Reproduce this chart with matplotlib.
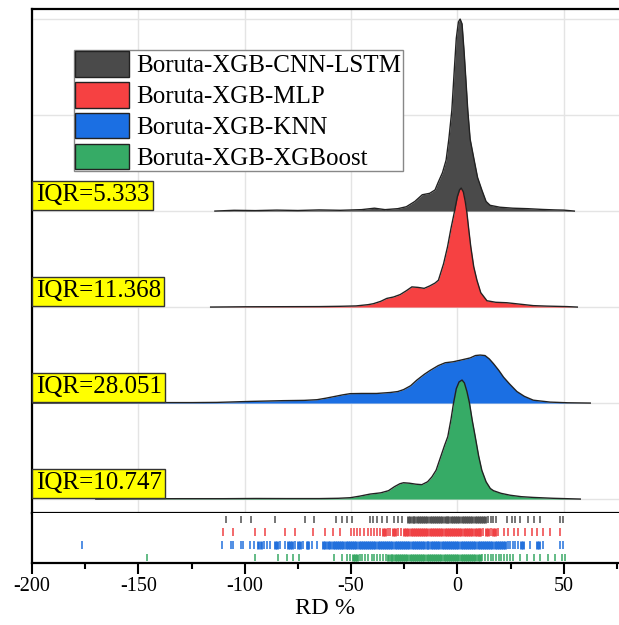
import numpy as np
import matplotlib.pyplot as plt
from matplotlib.patches import Patch

plt.rcParams['font.family'] = ['Liberation Serif', 'DejaVu Serif']
plt.rcParams['axes.unicode_minus'] = False

models = ['Boruta-XGB-CNN-LSTM', 'Boruta-XGB-MLP', 'Boruta-XGB-KNN', 'Boruta-XGB-XGBoost']
iqr = ['5.333', '11.368', '28.051', '10.747']
colors = ['#4a4a4a', '#f64142', '#1b6fe3', '#36ab66']
rug_colors = ['#505050', '#ef4043', '#2270dc', '#38a864']

# density curves (x = RD %, h = ridge height)
cnn_x = [-114, -105, -95, -85, -75, -65, -55, -45, -39, -34, -28, -24, -20, -16.5, -13, -10.5, -9, -7,
         -5.3, -4, -2.6, -1.5, -0.5, 0.5, 1.3, 2.2, 3.2, 4.2, 4.9, 6, 7.9, 9.5, 11.5, 13.5, 15.4,
         20, 26, 33, 40, 46, 50, 55]
cnn_h = [0.0, 0.008, 0.005, 0.01, 0.006, 0.012, 0.008, 0.015, 0.03, 0.015, 0.025, 0.045, 0.1, 0.17,
         0.185, 0.22, 0.3, 0.4, 0.53, 0.75, 1.05, 1.45, 1.8, 1.97, 2.0, 1.95, 1.65, 1.3, 1.05, 0.75,
         0.53, 0.35, 0.22, 0.1, 0.06, 0.04, 0.03, 0.025, 0.017, 0.012, 0.01, 0.0]

mlp_x = [-116, -100, -80, -65, -55, -47.6, -42, -39.5, -36, -33.2, -30, -26.9, -24, -21.4, -18.5,
         -15.6, -13, -10.5, -8.9, -6.5, -4.6, -3, -1.5, 0, 1.0, 1.8, 2.8, 3.7, 4.5, 5.4, 6.3, 7.7,
         9.2, 11, 13.9, 18, 23.3, 29.5, 35.7, 42, 51.5, 56.4]
mlp_h = [0.0, 0.003, 0.004, 0.005, 0.008, 0.012, 0.025, 0.035, 0.06, 0.09, 0.105, 0.13, 0.17, 0.21,
         0.205, 0.195, 0.22, 0.25, 0.28, 0.45, 0.63, 0.82, 0.98, 1.15, 1.22, 1.24, 1.2, 1.1, 0.98,
         0.8, 0.63, 0.42, 0.28, 0.15, 0.066, 0.05, 0.045, 0.03, 0.015, 0.01, 0.005, 0.0]

knn_x = [-200, -180, -160, -140, -125, -113, -97.5, -82, -72, -66, -62, -58.3, -54, -50.4, -45, -38,
         -31.6, -28, -25.3, -22, -19, -15.5, -12.8, -9, -5.7, -2, 2.1, 6, 8.5, 10.7, 13, 15, 17,
         19.5, 21.7, 24.5, 28, 31.5, 35.7, 43.6, 52, 62.5]
knn_h = [0.0, 0.002, 0.003, 0.005, 0.005, 0.007, 0.017, 0.025, 0.028, 0.035, 0.05, 0.066, 0.085,
         0.098, 0.1, 0.1, 0.11, 0.12, 0.14, 0.18, 0.24, 0.3, 0.34, 0.39, 0.42, 0.43, 0.45, 0.47,
         0.495, 0.5, 0.495, 0.46, 0.41, 0.34, 0.27, 0.2, 0.12, 0.07, 0.03, 0.01, 0.003, 0.0]

xgb_x = [-170, -150, -130, -110, -95, -80, -65, -56, -50.4, -46, -41, -36, -32.4, -29.5, -27, -25.3,
         -22.5, -19.5, -16.7, -14, -12, -10, -8, -6, -4.5, -3, -1.8, -0.5, 0.8, 2.2, 3.3, 4.5, 5.7,
         7, 8.4, 10, 11.5, 13.5, 15.5, 17, 20.5, 24.8, 30, 35.7, 45, 57.8]
xgb_h = [0.0, 0.003, 0.004, 0.004, 0.006, 0.005, 0.005, 0.008, 0.014, 0.03, 0.052, 0.065, 0.087,
         0.13, 0.16, 0.17, 0.165, 0.155, 0.15, 0.18, 0.23, 0.3, 0.43, 0.56, 0.65, 0.83, 1.0, 1.15,
         1.22, 1.24, 1.21, 1.12, 1.0, 0.82, 0.65, 0.45, 0.3, 0.18, 0.11, 0.087, 0.06, 0.04, 0.025,
         0.017, 0.008, 0.0]

# rug values (RD %)
cnn_rug = [-108.8, -101.8, -96.8, -85.6, -71.7, -67.4, -57.0, -54.3, -52.0, -49.6, -41.0, -39.5,
           -37.9, -35.6, -33.2, -30.0, -27.7, -26.1, -23.0, -22.1, -21.0, -20.2, -19.1, -18.0,
           -17.2, -16.1, -15.0, -14.2, -13.1, -12.0, -11.1, -10.2, -9.0, -8.1, -7.2, -6.0, -5.1,
           -4.2, -3.0, -2.1, -1.2, 0.0, 0.9, 2.0, 2.9, 4.1, 5.0, 6.1, 7.0, 8.2, 9.1, 10.0, 11.2,
           12.2, 13.1, 14.3, 15.6, 16.8, 18.4, 23.3, 25.6, 27.2, 29.5, 33.4, 35.8, 38.9, 48.4, 49.6]
mlp_rug = [-110.1, -105.5, -95.3, -90.3, -81.0, -76.2, -68.0, -62.2, -58.5, -55.0, -50.0, -48.6,
           -47.1, -45.6, -43.8, -42.0, -40.7, -39.2, -37.8, -36.4, -35.1, -34.0, -32.7, -31.5,
           -30.2, -29.1, -27.8, -26.6, -25.3, -24.2, -23.0, -21.9, -21.0, -19.9, -19.0, -18.0,
           -17.1, -16.0, -15.0, -14.1, -13.0, -12.0, -11.1, -10.0, -9.0, -8.1, -7.0, -6.0, -5.1,
           -4.0, -3.0, -2.1, -1.0, 0.0, 1.0, 1.9, 3.0, 4.0, 5.1, 6.0, 7.0, 8.1, 9.0, 10.0, 10.8,
           12.0, 13.3, 14.4, 15.7, 16.9, 17.7, 19.3, 21.7, 24.0, 26.4, 28.7, 31.9, 35.0, 37.4,
           40.5, 43.6, 48.4]
knn_rug = [-176.6, -110.8, -106.5, -105.3, -101.8, -100.6, -97.5, -95.6, -93.6, -92.5, -90.9,
           -89.6, -88.1, -85.7, -84.6, -83.4, -81.0, -79.5, -78.7, -77.9, -76.4, -74.8, -74.0,
           -72.5, -70.8, -70.1, -68.5, -66.1, -63.0, -62.2, -60.6, -59.7, -58.6, -57.5, -56.7,
           -55.6, -54.5, -53.6, -52.4, -51.5, -50.6, -49.4, -48.5, -47.6, -46.4, -45.5, -44.6,
           -43.5, -42.4, -41.6, -40.5, -39.5, -38.6, -37.4, -36.5, -35.5, -34.6, -33.5, -32.4,
           -31.5, -30.6, -29.5, -28.4, -27.5, -26.5, -25.6, -24.4, -23.5, -22.6, -21.5, -20.4,
           -19.5, -18.6, -17.5, -16.4, -15.5, -14.5, -13.6, -12.5, -11.4, -10.5, -9.6, -8.5, -7.4,
           -6.5, -5.5, -4.6, -3.5, -2.4, -1.5, -0.6, 0.5, 1.6, 2.5, 3.4, 4.5, 5.6, 6.5, 7.4, 8.5,
           9.6, 10.5, 11.4, 12.5, 13.6, 14.5, 15.4, 16.5, 17.6, 18.5, 19.4, 20.5, 21.6, 22.4, 23.6,
           24.8, 26.1, 27.3, 28.6, 29.9, 31.0, 34.2, 37.4, 38.2, 40.5, 48.4, 49.9]
xgb_rug = [-145.8, -95.2, -84.1, -80.2, -77.1, -74.5, -58.2, -54.3, -52.0, -50.4, -48.9, -48.1,
           -47.3, -46.0, -44.7, -43.2, -41.9, -40.3, -39.1, -37.6, -36.2, -34.9, -33.6, -32.4,
           -31.4, -30.5, -29.4, -28.5, -27.6, -26.5, -25.4, -24.5, -23.6, -22.5, -21.4, -20.5,
           -19.6, -18.5, -17.4, -16.5, -15.6, -14.5, -13.4, -12.5, -11.6, -10.5, -9.4, -8.5, -7.6,
           -6.5, -5.4, -4.5, -3.6, -2.5, -1.4, -0.5, 0.4, 1.5, 2.6, 3.5, 4.4, 5.5, 6.6, 7.5, 8.4,
           9.5, 10.6, 11.8, 13.1, 14.3, 15.6, 16.9, 18.1, 19.4, 20.7, 21.9, 23.2, 24.6, 26.0, 29.5,
           32.7, 35.8, 38.9, 42.8, 46.0, 49.2, 50.7]

curves = [(cnn_x, cnn_h), (mlp_x, mlp_h), (knn_x, knn_h), (xgb_x, xgb_h)]
rugs = [cnn_rug, mlp_rug, knn_rug, xgb_rug]

W, H = 619, 625
fig = plt.figure(figsize=(W / 100, H / 100), dpi=100)
ax = fig.add_axes([32 / W, 112.5 / H, 1 - 32 / W, 503.5 / H])
rug = fig.add_axes([32 / W, 61.6 / H, 1 - 32 / W, 50.9 / H])

# ridges: top one first, lower ones drawn over it
for i, ((xs, hs), c) in enumerate(zip(curves, colors)):
    base = 3 - i
    ys = [base + h for h in hs]
    ax.fill_between(xs, base, ys, color=c, lw=0, zorder=3 + i)
    ax.plot(xs, ys, color='#222222', lw=1.0, zorder=3 + i)
    ax.text(-198.3, base + 0.05, 'IQR=' + iqr[i], fontsize=18, va='bottom', ha='left',
            zorder=20, bbox=dict(boxstyle='square,pad=0.14', fc='#ffff00', ec='#333333', lw=1))

ax.set_xlim(-200, 76)
ax.set_ylim(-0.14, 5.105)
ax.set_xticks([-200, -150, -100, -50, 0, 50])
ax.set_yticks([0, 1, 2, 3, 4, 5])
ax.grid(True, color='#e4e4e4', lw=1, zorder=0)
ax.tick_params(left=False, bottom=False, labelleft=False, labelbottom=False)
ax.spines['right'].set_visible(False)
for s in ['top', 'left', 'bottom']:
    ax.spines[s].set_linewidth(1.6)

handles = [Patch(fc=c, ec='#222222', lw=1) for c in colors]
leg = fig.legend(handles, models, loc='upper left', bbox_to_anchor=(74 / W, 1 - 50 / H),
                 fontsize=18, frameon=True, fancybox=False, edgecolor='#888888',
                 handlelength=2.15, handleheight=1.2, handletextpad=0.3, labelspacing=0.18,
                 borderpad=0.05, borderaxespad=0)
leg.get_frame().set_linewidth(1)
leg.get_frame().set_alpha(1)

# thin ticks where they stand alone, wider ones where they crowd into a solid band
for i, (vals, c) in enumerate(zip(rugs, rug_colors)):
    v = np.array(vals)
    gaps = np.diff(v)
    near = np.minimum(np.r_[np.inf, gaps], np.r_[gaps, np.inf])
    widths = np.where(near < 1.15, 2.0, 1.1)
    rug.vlines(v, i - 0.28, i + 0.28, colors=c, linewidths=widths)

rug.set_xlim(-200, 76)
rug.set_ylim(3.43, -0.52)
rug.set_yticks([])
rug.set_xticks([-200, -150, -100, -50, 0, 50])
rug.set_xticks([-175, -125, -75, -25, 25, 75], minor=True)
rug.tick_params(axis='x', which='major', length=8, width=1.5, labelsize=14.5, pad=2)
rug.tick_params(axis='x', which='minor', length=4, width=1.5)
rug.spines['right'].set_visible(False)
rug.spines['top'].set_visible(False)
for s in ['left', 'bottom']:
    rug.spines[s].set_linewidth(1.6)
rug.set_xlabel('RD %', fontsize=17.5, labelpad=1)

fig.savefig('out.png', dpi=100)
